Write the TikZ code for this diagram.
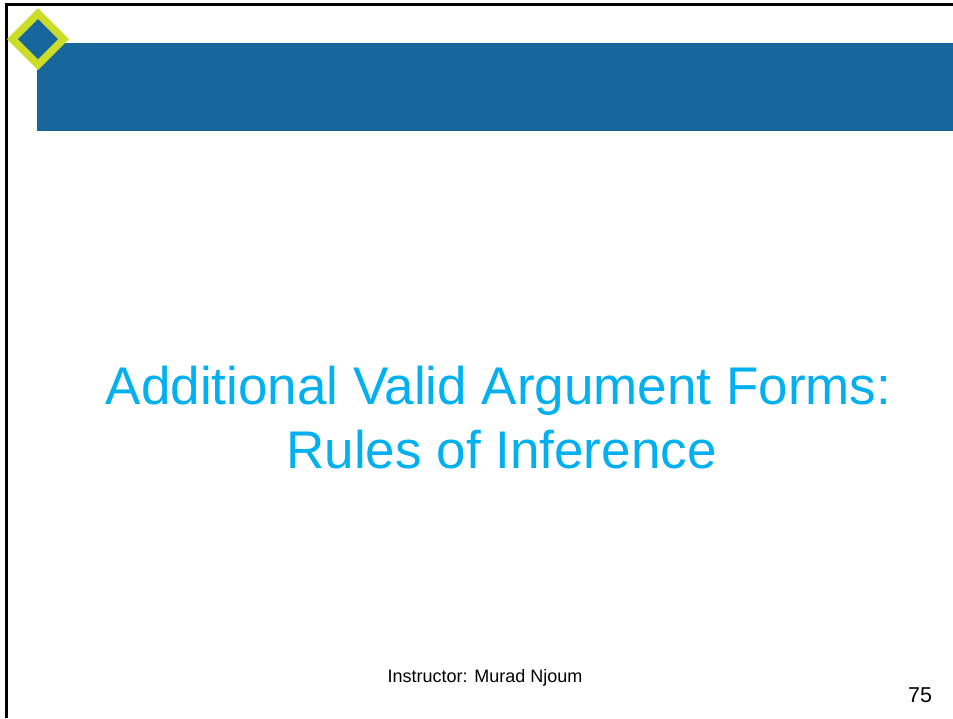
\documentclass[tikz,border=0pt]{standalone}
\usepackage{fontspec}
\setmainfont{Liberation Sans}
\definecolor{barblue}{RGB}{23,103,157}
\definecolor{limegreen}{RGB}{204,221,41}
\definecolor{titlecyan}{RGB}{0,176,240}
\tikzset{
  titletext/.style={text=titlecyan, font=\fontsize{53}{64}\selectfont, inner sep=0pt, anchor=base},
  smalltext/.style={text=black, inner sep=0pt, anchor=base},
}
\begin{document}
\begin{tikzpicture}[x=1pt,y=-1pt]
\useasboundingbox (0,0) rectangle (953,718);
\fill[white] (0,0) rectangle (953,718);
% frame lines
\draw[black, line width=3pt] (6.5,718) -- (6.5,4.5) -- (953,4.5);
% header bar
\fill[barblue] (37,43) rectangle (953,131);
% diamond ornament
\fill[limegreen] (38,8) -- (69,39) -- (38,70) -- (7,39) -- cycle;
\fill[barblue] (38,19) -- (58,39) -- (38,59) -- (18,39) -- cycle;
% title
\node[titletext] (title1) at (498.5,404) {Additional Valid Argument Forms:};
\node[titletext] (title2) at (501.5,468) {Rules of Inference};
% footer
\node[smalltext, font=\fontsize{18}{21}\selectfont] (instr) at (485,682) {Instructor: Murad Njoum};
\node[smalltext, font=\fontsize{21.5}{24}\selectfont] (pnum) at (920,702) {75};
\end{tikzpicture}
\end{document}
